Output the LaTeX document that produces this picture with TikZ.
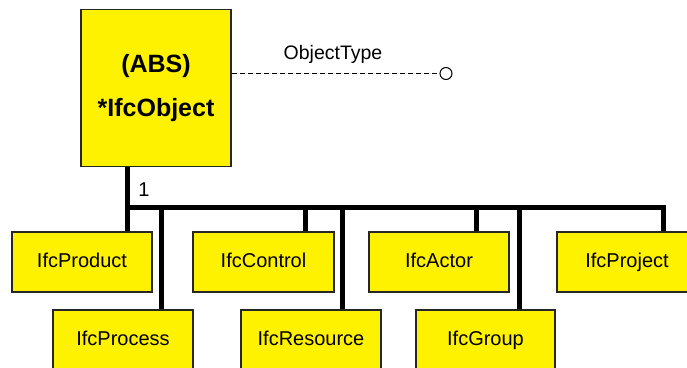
\documentclass[tikz,border=0pt]{standalone}
\usepackage{fontspec}
\setmainfont{Liberation Sans}
\begin{document}
\begin{tikzpicture}[x=1pt,y=-1pt,
  entity/.style={draw=black!85,line width=1.3pt,fill=yellow,
    minimum width=140pt,minimum height=60pt,inner sep=0pt,
    text height=14.5pt,text depth=4.5pt,
    font=\fontsize{20}{24}\selectfont},
  link/.style={line width=5pt,line join=miter,line cap=butt},
  attr/.style={dash pattern=on 5pt off 3pt,line width=1pt}]
  \useasboundingbox (0,0) rectangle (687,367);
  \clip (0,0) rectangle (687,367);

  % junctions on the subtype bus
  \coordinate (j0) at (127,207.5);
  \coordinate (jproc) at (161,207.5);
  \coordinate (jctrl) at (305,207.5);
  \coordinate (jres) at (342.5,207.5);
  \coordinate (jact) at (476.5,207.5);
  \coordinate (jgrp) at (519.5,207.5);
  \coordinate (jproj) at (663,207.5);

  % supertype
  \node[entity,minimum width=150pt,minimum height=157pt,
        text height=,text depth=,
        font=\fontsize{25}{30}\selectfont\bfseries,align=center]
        (obj) at (156,88) {(ABS)\\[14pt]*IfcObject};

  % subtypes, upper row
  \node[entity] (prod) at (82,262)    {IfcProduct};
  \node[entity,minimum width=141pt] (ctrl) at (263.5,262) {IfcControl};
  \node[entity] (actor) at (439,262)  {IfcActor};
  \node[entity] (proj) at (627,262)   {IfcProject};
  % subtypes, lower row
  \node[entity] (proc) at (123,340)   {IfcProcess};
  \node[entity] (res) at (311,340)    {IfcResource};
  \node[entity,minimum width=139pt] (grp) at (485.5,340) {IfcGroup};

  % trunk, bus and drops
  \draw[link] (j0 |- obj.south) -- (j0 |- prod.north);
  \draw[link] (j0) -- (jproj) -- (jproj |- proj.north);
  \draw[link] (jproc) -- (jproc |- proc.north);
  \draw[link] (jctrl) -- (jctrl |- ctrl.north);
  \draw[link] (jres) -- (jres |- res.north);
  \draw[link] (jact) -- (jact |- actor.north);
  \draw[link] (jgrp) -- (jgrp |- grp.north);
  \node[font=\fontsize{20}{24}\selectfont] (card) at (144,190) {1};

  % attribute
  \node[draw,circle,fill=white,line width=1pt,minimum size=12pt,inner sep=0pt]
       (end) at (446,73.5) {};
  \draw[attr] (obj.east |- end) -- (end.west);
  \node[font=\fontsize{19.5}{23}\selectfont] (lbl) at (333,54) {ObjectType};
\end{tikzpicture}
\end{document}
